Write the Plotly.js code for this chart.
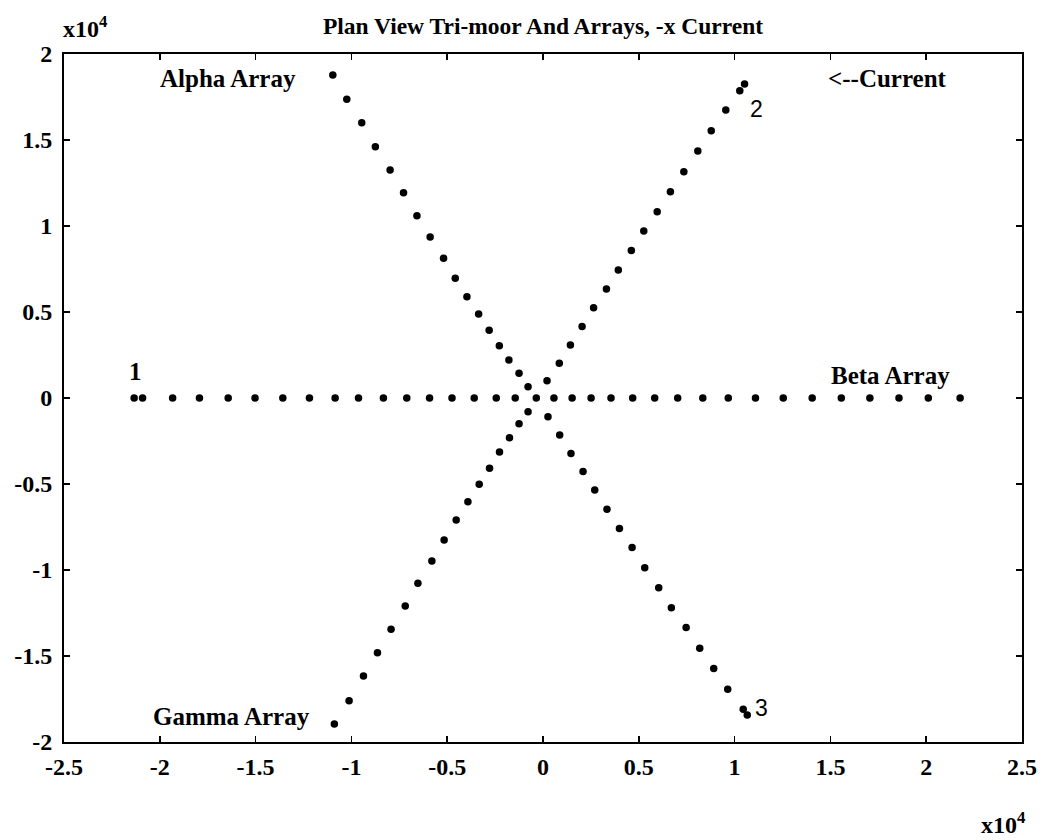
<!DOCTYPE html>
<html>
<head>
<meta charset="utf-8">
<script src="https://cdn.plot.ly/plotly-3.0.1.min.js"></script>
<style>html,body{margin:0;padding:0;background:#fff;}#chart{width:1044px;height:840px;}</style>
</head>
<body>
<div id="chart"></div>
<script>
// Values in units of 1e4 (as shown by the x10^4 axis multipliers)
var betaX = [-2.134, -2.090, -1.933, -1.793, -1.643, -1.503, -1.358, -1.219, -1.085, -0.963, -0.833, -0.711, -0.592, -0.475, -0.359, -0.244, -0.145, -0.035, 0.057, 0.152, 0.251, 0.355, 0.468, 0.583, 0.703, 0.834, 0.967, 1.109, 1.254, 1.405, 1.557, 1.706, 1.858, 2.011, 2.177];
var betaY = [0, 0, 0, 0, 0, 0, 0, 0, 0, 0, 0, 0, 0, 0, 0, 0, 0, 0, 0, 0, 0, 0, 0, 0, 0, 0, 0, 0, 0, 0, 0, 0, 0, 0, 0];

var alphaX = [-1.097, -1.024, -0.946, -0.875, -0.798, -0.728, -0.658, -0.589, -0.519, -0.458, -0.397, -0.336, -0.281, -0.228, -0.178, -0.125, -0.078, 0.026, 0.087, 0.146, 0.209, 0.270, 0.334, 0.399, 0.465, 0.531, 0.604, 0.670, 0.747, 0.818, 0.891, 0.964, 1.045, 1.066];
var alphaY = [1.878, 1.737, 1.601, 1.461, 1.326, 1.194, 1.060, 0.936, 0.812, 0.696, 0.589, 0.488, 0.394, 0.304, 0.221, 0.144, 0.066, -0.109, -0.215, -0.322, -0.428, -0.535, -0.647, -0.758, -0.869, -0.987, -1.103, -1.219, -1.335, -1.455, -1.572, -1.694, -1.810, -1.843];

var gammaX = [-1.089, -1.012, -0.937, -0.864, -0.793, -0.719, -0.653, -0.580, -0.516, -0.453, -0.392, -0.333, -0.279, -0.227, -0.175, -0.125, -0.078, 0.021, 0.085, 0.143, 0.204, 0.264, 0.331, 0.393, 0.461, 0.526, 0.596, 0.665, 0.735, 0.808, 0.878, 0.954, 1.027, 1.052];
var gammaY = [-1.895, -1.760, -1.616, -1.481, -1.345, -1.209, -1.077, -0.948, -0.826, -0.709, -0.603, -0.502, -0.409, -0.314, -0.231, -0.149, -0.080, 0.101, 0.202, 0.308, 0.415, 0.525, 0.634, 0.744, 0.857, 0.971, 1.083, 1.199, 1.316, 1.436, 1.554, 1.674, 1.787, 1.826];

var xTickVals = [-2.5, -2, -1.5, -1, -0.5, 0, 0.5, 1, 1.5, 2, 2.5];
var xTickText = ['-2.5', '-2', '-1.5', '-1', '-0.5', '0', '0.5', '1', '1.5', '2', '2.5'];
var yTickVals = [-2, -1.5, -1, -0.5, 0, 0.5, 1, 1.5, 2];
var yTickText = ['-2', '-1.5', '-1', '-0.5', '0', '0.5', '1', '1.5', '2'];

var serifLabels = ['Alpha Array', '<--Current', '1', 'Beta Array', 'Gamma Array'];
var serifLabelX = [-1.644, 1.799, -2.125, 1.813, -1.625];
var serifLabelY = [1.860, 1.860, 0.155, 0.133, -1.853];
var sansLabels = ['2', '3'];
var sansLabelX = [1.112, 1.140];
var sansLabelY = [1.680, -1.800];

var titleText = 'Plan View Tri-moor And Arrays, -x Current';
var multiplierText = 'x10<sup>4</sup>';

var serif = 'Liberation Serif, Times New Roman, serif';
var sans = 'Liberation Sans, Arial, sans-serif';
var mk = {color: '#000', size: 7.5, symbol: 'circle'};

var traces = [
  {x: betaX, y: betaY, type: 'scatter', mode: 'markers', marker: mk, name: 'Beta Array'},
  {x: alphaX, y: alphaY, type: 'scatter', mode: 'markers', marker: mk, name: 'Alpha Array'},
  {x: gammaX, y: gammaY, type: 'scatter', mode: 'markers', marker: mk, name: 'Gamma Array'}
];

var annotations = [];
serifLabels.forEach(function (t, i) {
  annotations.push({x: serifLabelX[i], y: serifLabelY[i], xref: 'x', yref: 'y', text: '<b>' + t.replace('<', '&lt;') + '</b>', showarrow: false,
    xanchor: 'center', yanchor: 'middle', font: {family: serif, size: 25, color: '#000'}});
});
sansLabels.forEach(function (t, i) {
  annotations.push({x: sansLabelX[i], y: sansLabelY[i], xref: 'x', yref: 'y', text: t, showarrow: false,
    xanchor: 'center', yanchor: 'middle', font: {family: sans, size: 23, color: '#000'}});
});
annotations.push({x: -0.003, y: 1.039, xref: 'paper', yref: 'paper', text: '<b>' + multiplierText + '</b>', showarrow: false,
  xanchor: 'left', yanchor: 'middle', font: {family: serif, size: 24, color: '#000'}});
annotations.push({x: 0.955, y: -0.1424, xref: 'paper', yref: 'paper', text: '<b>' + multiplierText + '</b>', showarrow: false,
  xanchor: 'left', yanchor: 'bottom', font: {family: serif, size: 24, color: '#000'}});

var axisCommon = {
  showgrid: false, zeroline: false, showline: true, linecolor: '#000', linewidth: 2,
  mirror: 'ticks', ticks: 'inside', ticklen: 6, tickwidth: 1.5, tickcolor: '#000',
  tickfont: {family: serif, size: 24, color: '#000', weight: 'bold'}, fixedrange: true
};

var layout = {
  width: 1044, height: 840,
  margin: {l: 64, r: 22, t: 54, b: 98},
  paper_bgcolor: '#fff', plot_bgcolor: '#fff',
  showlegend: false,
  title: {text: titleText, x: 0.5, xref: 'paper', y: 1 - 26 / 840, yref: 'container', yanchor: 'middle',
    font: {family: serif, size: 23.5, color: '#000', weight: 'bold'}},
  xaxis: Object.assign({}, axisCommon, {range: [-2.5, 2.5], tickmode: 'array', tickvals: xTickVals, ticktext: xTickText, ticklabelstandoff: 2}),
  yaxis: Object.assign({}, axisCommon, {range: [-2, 2], tickmode: 'array', tickvals: yTickVals, ticktext: yTickText, ticklabelstandoff: 5}),
  annotations: annotations
};

Plotly.newPlot('chart', traces, layout, {displayModeBar: false, staticPlot: true});
</script>
</body>
</html>
